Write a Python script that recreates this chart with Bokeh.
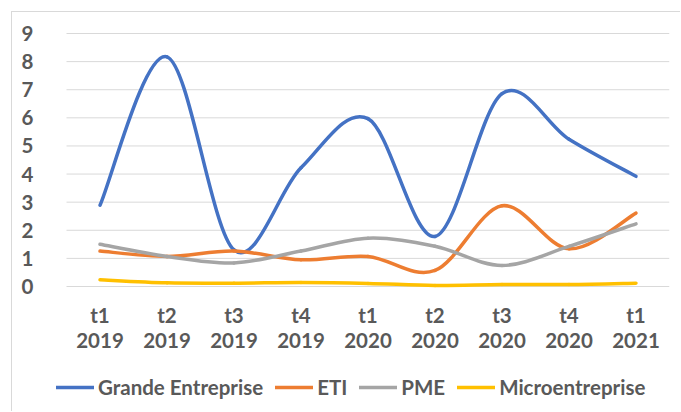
from bokeh.plotting import figure
from bokeh.models import (ColumnDataSource, FixedTicker, Range1d,
                          Legend, LegendItem)
from bokeh.core.properties import value
from bokeh.embed import file_html
from bokeh.resources import INLINE

periodes = ["t1", "t2", "t3", "t4", "t1", "t2", "t3", "t4", "t1"]
annees = ["2019", "2019", "2019", "2019", "2020", "2020", "2020", "2020", "2021"]
grande_entreprise = [2.89, 8.17, 1.30, 4.22, 5.97, 1.78, 6.86, 5.24, 3.92]
eti = [1.26, 1.07, 1.26, 0.95, 1.07, 0.57, 2.87, 1.34, 2.61]
pme = [1.50, 1.07, 0.84, 1.26, 1.72, 1.43, 0.75, 1.43, 2.23]
microentreprise = [0.24, 0.13, 0.12, 0.14, 0.11, 0.04, 0.07, 0.07, 0.12]
y_ticks = [0, 1, 2, 3, 4, 5, 6, 7, 8, 9]

series = [
    ("Grande Entreprise", grande_entreprise, "#4472C4"),
    ("ETI", eti, "#ED7D31"),
    ("PME", pme, "#A5A5A5"),
    ("Microentreprise", microentreprise, "#FFC000"),
]

FONT = "Lato"
TXT = "#595959"
PY = 253 / 9.0   # vertical pixels per unit
PXX = 67.0       # horizontal pixels per category
n = len(periodes)
x_lo, x_hi = 0.5, n + 0.5

p = figure(width=669, height=400, output_backend="svg", toolbar_location=None,
           x_range=Range1d(x_lo - 10 / PXX, x_hi),
           y_range=Range1d(-126 / PY, 9 + 1 / PY),
           x_axis_location=None, min_border_left=44, min_border_right=12,
           min_border_top=20, min_border_bottom=0)
p.styles = {"margin-left": "11px", "margin-top": "11px",
            "border-left": "1px solid #d9d9d9", "border-top": "1px solid #d9d9d9"}
p.outline_line_color = None
p.background_fill_color = "white"
p.border_fill_color = "white"
p.xgrid.visible = False
p.ygrid.visible = False

ya = p.yaxis[0]
ya.ticker = FixedTicker(ticks=y_ticks)
ya.axis_line_color = None
ya.major_tick_line_color = None
ya.minor_tick_line_color = None
ya.major_label_text_font = FONT
ya.major_label_text_font_style = "bold"
ya.major_label_text_font_size = "20.5px"
ya.major_label_text_color = TXT
ya.major_label_standoff = 17

# horizontal gridlines across the category span
p.segment(x0=[x_lo] * len(y_ticks), y0=y_ticks, x1=[x_hi] * len(y_ticks),
          y1=y_ticks, line_color="#d9d9d9", line_width=1)

xs = list(range(1, n + 1))

# category labels (two lines) under the plotting area
for labels, ypix in ((periodes, 28), (annees, 54)):
    p.text(x=xs, y=[-ypix / PY] * n, text=labels,
           text_font=value(FONT), text_font_style="bold",
           text_font_size="20.5px", text_color=TXT,
           text_align="center", text_baseline="middle")


def bezier_cols(vals):
    d = dict(x0=[], y0=[], x1=[], y1=[], cx0=[], cy0=[], cx1=[], cy1=[])
    for i in range(n - 1):
        xm, ym = xs[max(i - 1, 0)], vals[max(i - 1, 0)]
        xa, ya_ = xs[i], vals[i]
        xb, yb = xs[i + 1], vals[i + 1]
        xp, yp = xs[min(i + 2, n - 1)], vals[min(i + 2, n - 1)]
        d["x0"].append(xa); d["y0"].append(ya_)
        d["x1"].append(xb); d["y1"].append(yb)
        d["cx0"].append(xa + (xb - xm) / 6); d["cy0"].append(ya_ + (yb - ym) / 6)
        d["cx1"].append(xb - (xp - xa) / 6); d["cy1"].append(yb - (yp - ya_) / 6)
    return d


items = []
for name, vals, color in series:
    src = ColumnDataSource(bezier_cols(vals))
    r = p.bezier(x0="x0", y0="y0", x1="x1", y1="y1", cx0="cx0", cy0="cy0",
                 cx1="cx1", cy1="cy1", source=src, line_color=color,
                 line_width=3.5, line_cap="round")
    items.append(LegendItem(label=name, renderers=[r]))

legend = Legend(items=items, orientation="horizontal", location=(0, 13),
                glyph_width=38, glyph_height=20, label_standoff=4, spacing=12,
                padding=0, margin=0, border_line_color=None,
                background_fill_alpha=0, label_text_font=FONT,
                label_text_font_style="bold", label_text_font_size="20.5px",
                label_text_color=TXT)
p.add_layout(legend, "center")

open("out.html", "w").write(file_html(p, INLINE))
